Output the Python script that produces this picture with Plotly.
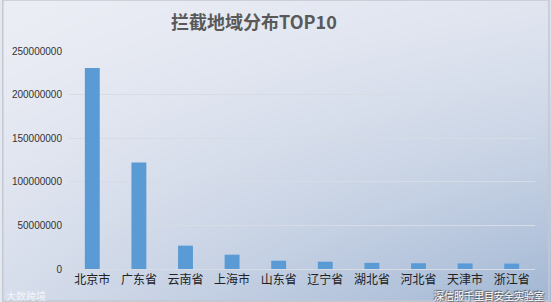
import base64
import struct
import zlib

import numpy as np
import plotly.graph_objects as go

# Top-10 regions by number of blocked requests
regions = ["北京市", "广东省", "云南省", "上海市", "山东省",
           "辽宁省", "湖北省", "河北省", "天津市", "浙江省"]
blocked = [230500000, 122000000, 26800000, 16400000, 9500000,
           8400000, 7000000, 6600000, 6400000, 6200000]
y_ticks = [0, 50000000, 100000000, 150000000, 200000000, 250000000]

W, H = 551, 302
ML, MR, MT, MB = 67, 16, 51, 33
PW, PH = W - ML - MR, H - MT - MB


def gradient_png(w, h):
    """Soft blue-grey corner gradient, encoded as a PNG data URI."""
    tl = np.array([236, 238, 245], float)
    tr = np.array([224, 229, 240], float)
    bl = np.array([214, 221, 235], float)
    br = np.array([162, 183, 212], float)
    u = np.linspace(0, 1, w)[None, :, None]
    v = np.linspace(0, 1, h)[:, None, None]
    v2 = v ** 1.3
    img = (tl * (1 - u) * (1 - v2) + tr * u * (1 - v2)
           + bl * (1 - u) * v2 + br * u * v2)
    img = np.clip(img, 0, 255).astype(np.uint8)
    raw = b"".join(b"\x00" + row.tobytes() for row in img)

    def chunk(tag, data):
        c = struct.pack(">I", len(data)) + tag + data
        return c + struct.pack(">I", zlib.crc32(tag + data) & 0xFFFFFFFF)

    png = (b"\x89PNG\r\n\x1a\n"
           + chunk(b"IHDR", struct.pack(">IIBBBBB", w, h, 8, 2, 0, 0, 0))
           + chunk(b"IDAT", zlib.compress(raw, 9))
           + chunk(b"IEND", b""))
    return "data:image/png;base64," + base64.b64encode(png).decode()


fig = go.Figure(
    go.Bar(
        x=regions,
        y=blocked,
        marker=dict(color="#5b9bd5", line=dict(width=0)),
        hoverinfo="x+y",
    )
)

fig.update_layout(
    width=W,
    height=H,
    margin=dict(l=ML, r=MR, t=MT, b=MB),
    paper_bgcolor="#e3e8f1",
    plot_bgcolor="rgba(0,0,0,0)",
    bargap=0.68,
    showlegend=False,
    font=dict(family="Liberation Sans, Arial, Noto Sans CJK SC", color="#404040"),
    images=[dict(
        source=gradient_png(W, H),
        xref="paper", yref="paper",
        x=-ML / PW, y=1 + MT / PH,
        sizex=W / PW, sizey=H / PH,
        xanchor="left", yanchor="top",
        sizing="stretch", layer="below",
    )],
    annotations=[
        dict(
            text="<b>拦截地域分布TOP10</b>",
            xref="paper", yref="paper",
            x=(253 - ML) / PW, y=1 + (MT - 21) / PH,
            xanchor="center", yanchor="middle",
            showarrow=False,
            font=dict(family="Noto Sans CJK SC", size=18, color="#595959"),
        ),
        dict(
            text="深信服千里目安全实验室",
            xref="paper", yref="paper",
            x=(546 - ML) / PW, y=-(295 - MT - PH) / PH,
            xanchor="right", yanchor="middle",
            showarrow=False,
            font=dict(family="Noto Sans CJK SC", size=10, color="#ffffff",
                      shadow="1px 1px 1px #555, -1px -1px 1px #555"),
        ),
        dict(
            text="大数跨境",
            xref="paper", yref="paper",
            x=(2 - ML) / PW, y=-(295 - MT - PH) / PH,
            xanchor="left", yanchor="middle",
            showarrow=False,
            font=dict(family="Noto Sans CJK SC", size=10,
                      color="rgba(255,255,255,0.75)"),
        ),
    ],
    shapes=[dict(
        type="rect", xref="paper", yref="paper",
        x0=-ML / PW + 0.001, x1=1 + (MR - 2) / PW,
        y0=-(MB - 1) / PH, y1=1 + MT / PH,
        line=dict(color="#c4c8d0", width=1.5),
        fillcolor="rgba(0,0,0,0)", layer="above",
    )],
)

fig.update_xaxes(
    type="category",
    showgrid=False,
    showline=False,
    ticks="",
    ticklabelstandoff=2,
    tickfont=dict(family="Noto Sans CJK SC", size=12, color="#222222"),
    fixedrange=True,
)

fig.update_yaxes(
    range=[0, 250000000],
    tickmode="array",
    tickvals=y_ticks,
    ticktext=[str(v) for v in y_ticks],
    showgrid=True,
    gridcolor="#d6dbe4",
    gridwidth=1,
    zeroline=True,
    zerolinecolor="#d6dbe4",
    zerolinewidth=1,
    showline=False,
    ticks="",
    ticklabelstandoff=6,
    tickfont=dict(size=10, color="#333333"),
    fixedrange=True,
)

fig.write_html("out.html")
